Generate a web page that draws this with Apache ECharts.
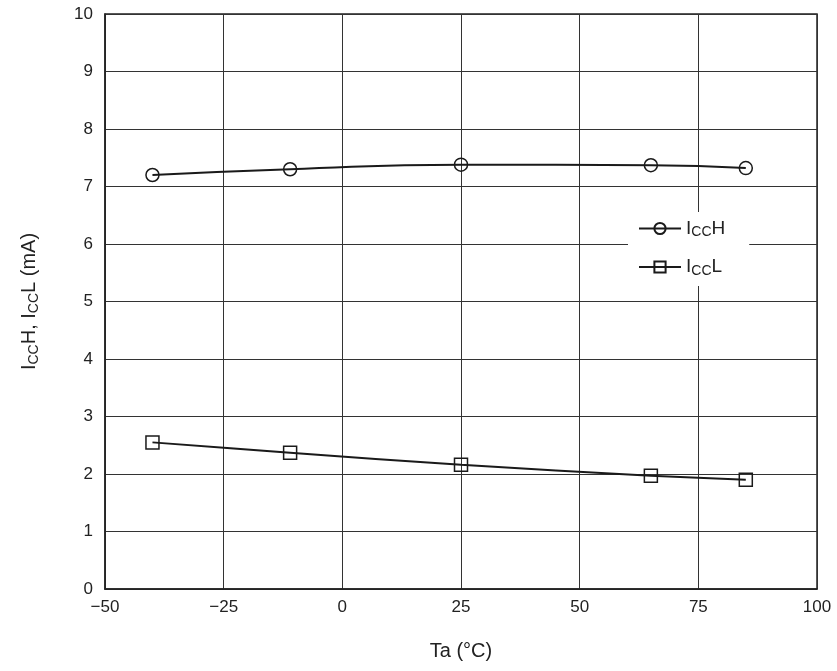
<!DOCTYPE html>
<html><head><meta charset="utf-8">
<script src="https://cdn.jsdelivr.net/npm/echarts@6/dist/echarts.min.js"></script>
<style>html,body{margin:0;padding:0;background:#fff}#c{width:837px;height:671px}</style>
</head><body><div id="c"></div>
<script>
const tempsH = [-40, -11, 25, 65, 85];
const iccH = [7.2, 7.3, 7.38, 7.37, 7.32];
const tempsL = [-40, -11, 25, 65, 85];
const iccL = [2.55, 2.37, 2.16, 1.97, 1.9];
const xTicks = [-50, -25, 0, 25, 50, 75, 100];
const yTicks = [0, 1, 2, 3, 4, 5, 6, 7, 8, 9, 10];

const chart = echarts.init(document.getElementById('c'));
const font = 'Liberation Sans, Arial, sans-serif';
const rich = {
  n: {fontSize: 19, fontFamily: font, color: '#222'},
  s: {fontSize: 14, fontFamily: font, color: '#222', padding: [8, 0, 0, 0]}
};
const yrich = {
  n: {fontSize: 20, fontFamily: font, color: '#222'},
  s: {fontSize: 14, fontFamily: font, color: '#222', padding: [10, 0, 0, 0]}
};
chart.setOption({
  animation: false,
  backgroundColor: '#fff',
  grid: {left: 105, right: 20, top: 14, bottom: 82, show: true, borderColor: '#222', borderWidth: 1.5},
  xAxis: {
    type: 'value', min: -50, max: 100, interval: 25,
    name: 'Ta (°C)', nameLocation: 'middle', nameGap: 52,
    nameTextStyle: {fontSize: 20, fontFamily: font, color: '#222'},
    axisLine: {onZero: false, lineStyle: {color: '#222', width: 1.5}},
    axisTick: {show: false},
    axisLabel: {fontSize: 17, fontFamily: font, color: '#222', margin: 10,
      formatter: v => (v < 0 ? '\u2212' + Math.abs(v) : String(v))},
    splitLine: {lineStyle: {color: '#333', width: 1}}
  },
  yAxis: {
    type: 'value', min: 0, max: 10, interval: 1,
    name: '{n|I}{s|CC}{n|H, I}{s|CC}{n|L (mA)}', nameLocation: 'middle', nameGap: 64, nameRotate: 90,
    nameTextStyle: {rich: yrich},
    axisLine: {onZero: false, lineStyle: {color: '#222', width: 1.5}},
    axisTick: {show: false},
    axisLabel: {fontSize: 17, fontFamily: font, color: '#222', margin: 12},
    splitLine: {lineStyle: {color: '#333', width: 1}}
  },
  legend: {
    orient: 'vertical', left: 628, top: 212,
    backgroundColor: '#fff', padding: [7, 24, 8, 10],
    itemWidth: 42, itemHeight: 14, itemGap: 18,
    textStyle: {rich: rich},
    formatter: name => name === 'H' ? '{n|I}{s|CC}{n|H}' : '{n|I}{s|CC}{n|L}',
    data: ['H', 'L']
  },
  series: [
    {
      name: 'H', type: 'line', smooth: 0.5,
      data: tempsH.map((t, i) => [t, iccH[i]]),
      symbol: 'circle', symbolSize: 13,
      lineStyle: {color: '#1a1a1a', width: 2},
      itemStyle: {color: 'rgba(255,255,255,0)', borderColor: '#1a1a1a', borderWidth: 1.5}
    },
    {
      name: 'L', type: 'line', smooth: 0.3,
      data: tempsL.map((t, i) => [t, iccL[i]]),
      symbol: 'rect', symbolSize: 13,
      lineStyle: {color: '#1a1a1a', width: 2},
      itemStyle: {color: 'rgba(255,255,255,0)', borderColor: '#1a1a1a', borderWidth: 1.5}
    }
  ]
});
</script></body></html>
